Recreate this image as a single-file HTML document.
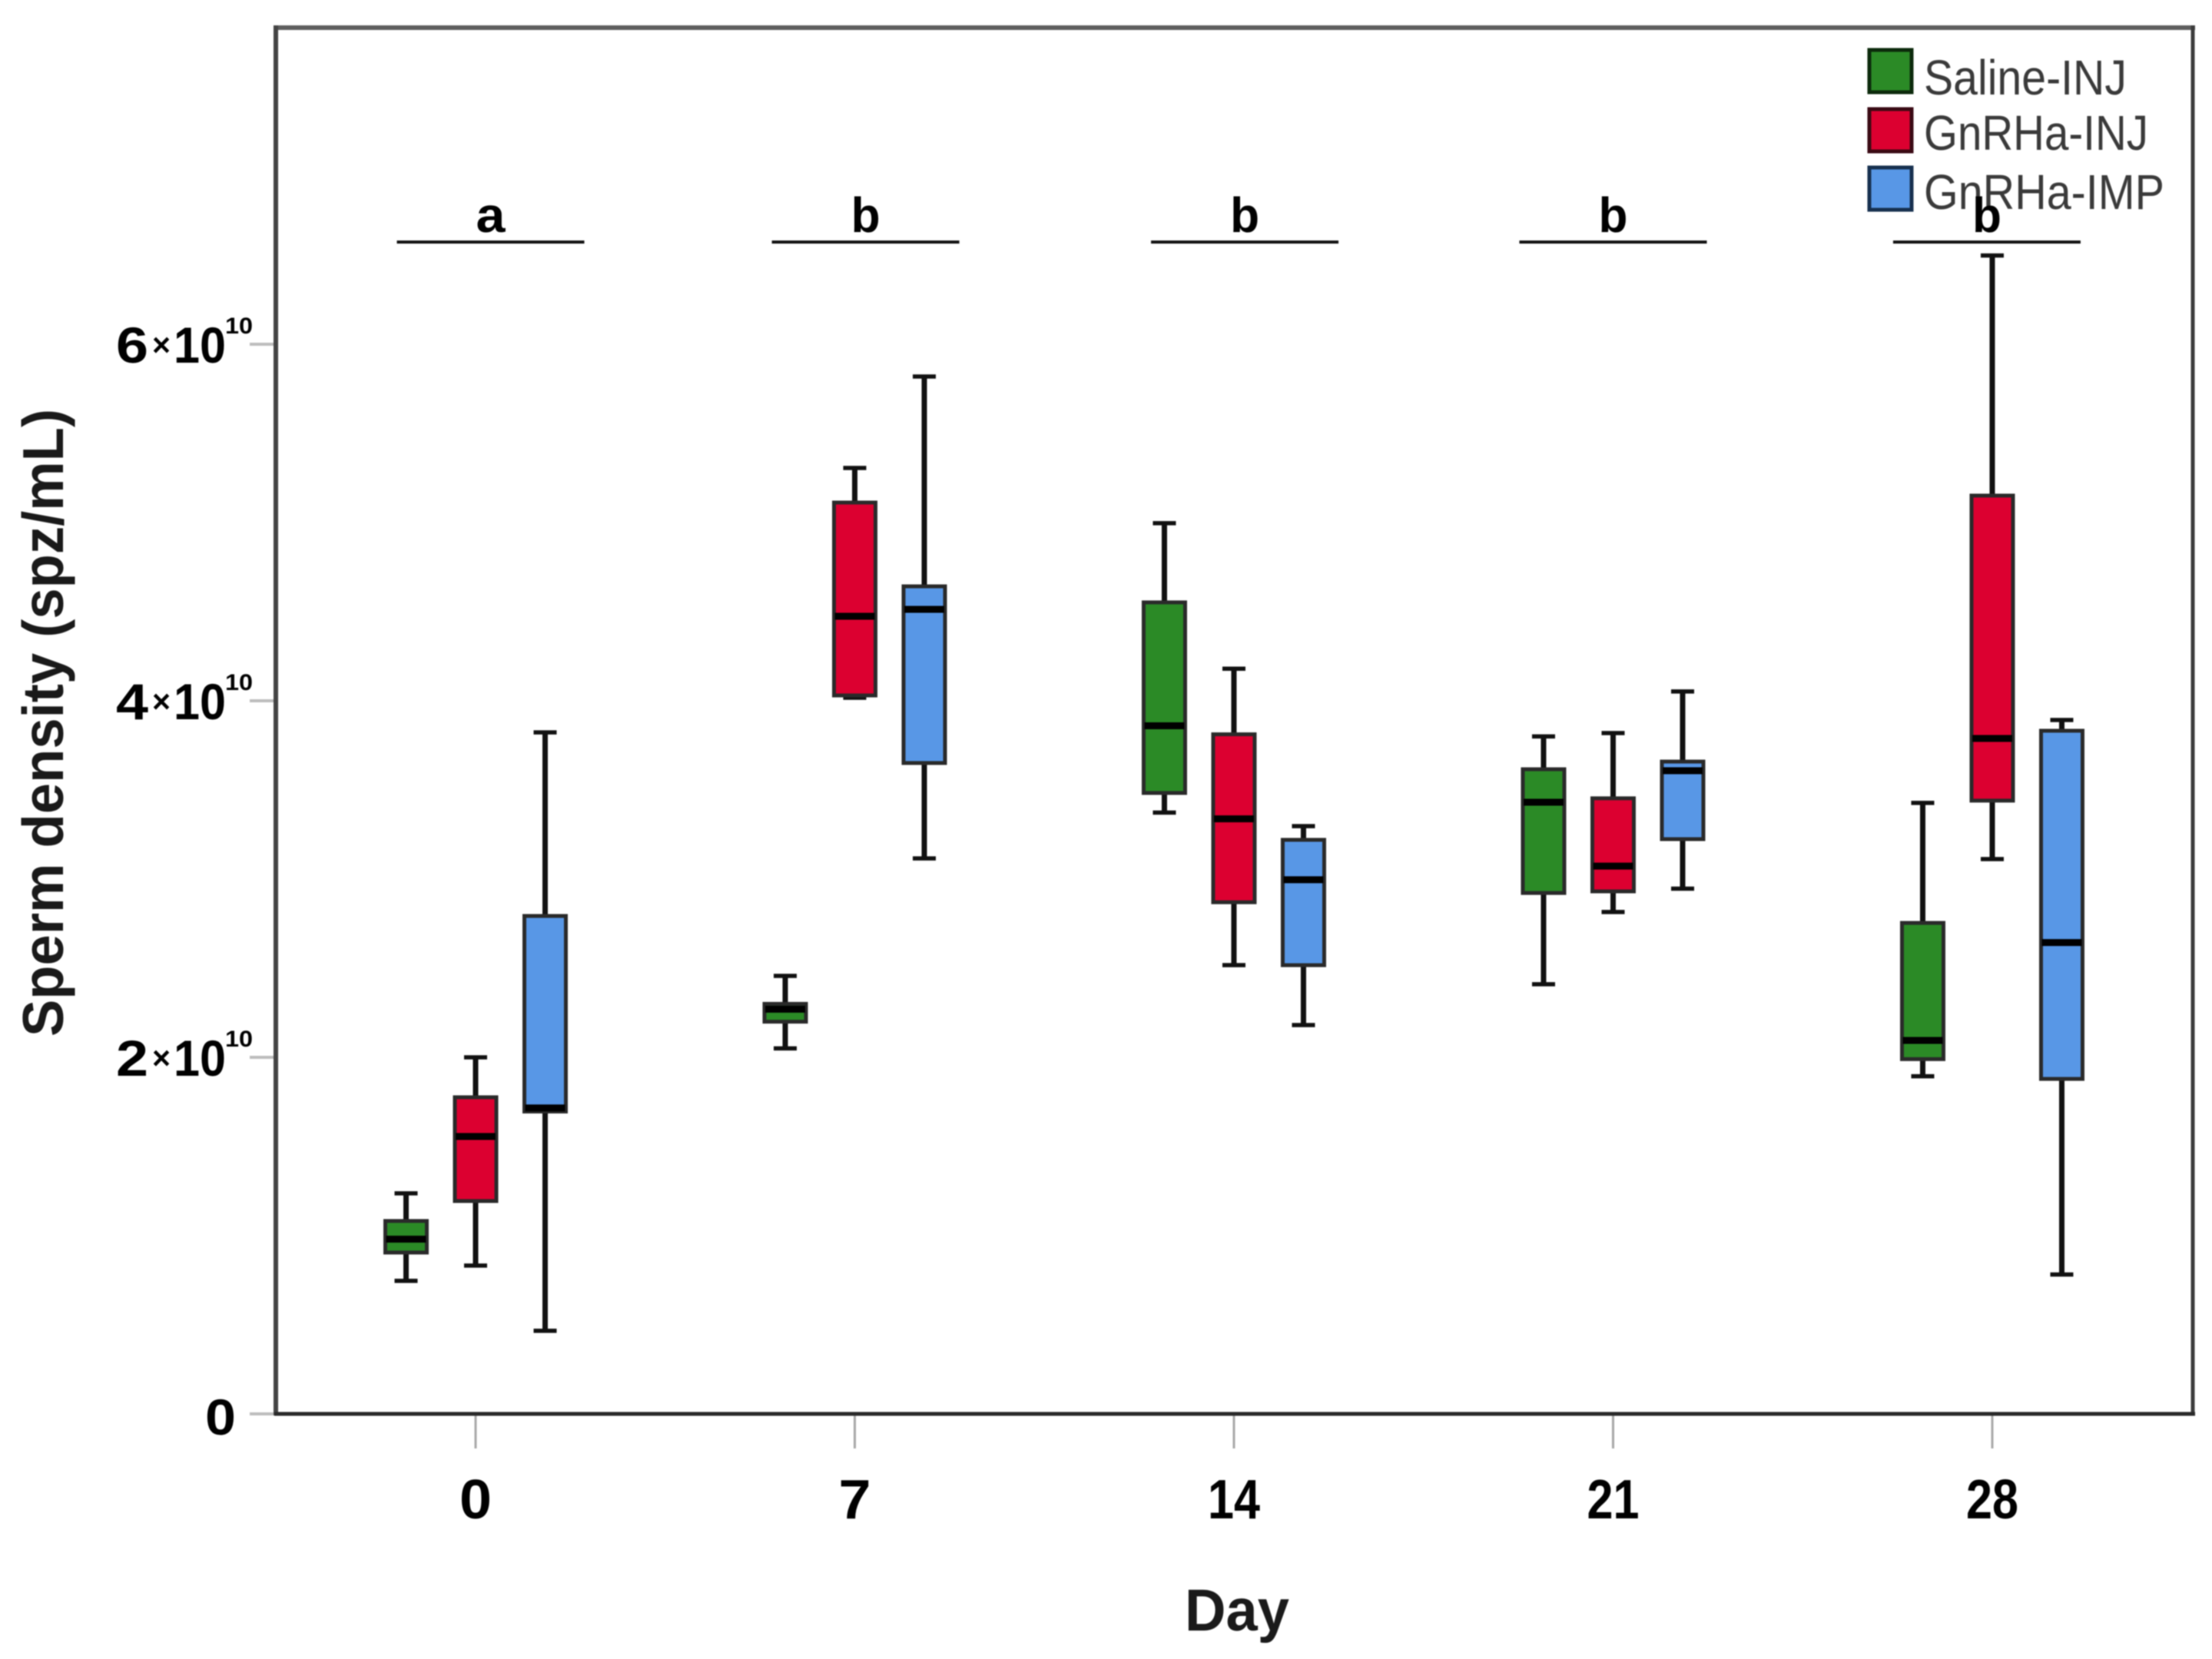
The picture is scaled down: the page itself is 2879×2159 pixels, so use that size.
<!DOCTYPE html>
<html lang="en">
<head>
<meta charset="utf-8">
<title>Sperm density by day</title>
<style>
html,body{margin:0;padding:0;background:#fff;}
svg{display:block;font-family:"Liberation Sans",Arial,sans-serif;filter:blur(0.9px);}
</style>
</head>
<body>
<svg id="chart" xmlns="http://www.w3.org/2000/svg" width="2879" height="2159" viewBox="0 0 2879 2159">
  <rect x="0" y="0" width="2879" height="2159" fill="#ffffff"/>
  <g id="ticks"></g>
  <g id="frame">
    <line x1="356" y1="36" x2="2857" y2="36" stroke="#5e5e5e" stroke-width="6"/>
    <line x1="2854" y1="33" x2="2854" y2="1842" stroke="#3c3c3c" stroke-width="5"/>
    <line x1="359" y1="33" x2="359" y2="1842" stroke="#444444" stroke-width="6"/>
    <line x1="357" y1="1840" x2="2857" y2="1840" stroke="#2a2a2a" stroke-width="5"/>
  </g>
  <g id="boxes"></g>
  <g id="tick-labels"></g>
  <g id="significance"></g>

  <g>
    <g>
      <rect x="2433" y="65" width="55" height="55" fill="#2B8A26" stroke="#0c2a0c" stroke-width="5"/>
      <text x="2504" y="123" font-size="64" fill="#3a3a3a" textLength="264" lengthAdjust="spacingAndGlyphs">Saline-INJ</text>
    </g>
    <g>
      <rect x="2433" y="142" width="55" height="55" fill="#DC0030" stroke="#3a0a14" stroke-width="5"/>
      <text x="2504" y="195" font-size="64" fill="#3a3a3a" textLength="292" lengthAdjust="spacingAndGlyphs">GnRHa-INJ</text>
    </g>
    <g>
      <rect x="2433" y="218" width="55" height="55" fill="#5897E6" stroke="#17304f" stroke-width="5"/>
      <text x="2504" y="272" font-size="64" fill="#3a3a3a" textLength="313" lengthAdjust="spacingAndGlyphs">GnRHa-IMP</text>
    </g>
  </g>

  <g id="significance-letters"></g>

  <text transform="translate(82,1349) rotate(-90)" x="0" y="0" font-size="75" font-weight="700" fill="#1a1a1a" textLength="817" lengthAdjust="spacingAndGlyphs">Sperm density (spz/mL)</text>
  <text x="1542" y="2122" font-size="77" font-weight="700" fill="#1a1a1a" textLength="136" lengthAdjust="spacingAndGlyphs">Day</text>
</svg>

<script>
// Chart data (sperm density in units of 1e10 spz/mL); each row = one day: [low, q1, median, q3, high]
var days = [0, 7, 14, 21, 28];
var salineInj = [
  [0.746, 0.905, 0.98, 1.082, 1.237],
  [2.05, 2.20, 2.27, 2.30, 2.457],
  [3.373, 3.483, 3.86, 4.552, 4.996],
  [2.41, 2.922, 3.431, 3.616, 3.80],
  [1.894, 1.99, 2.095, 2.754, 3.427]
];
var gnrhaInj = [
  [0.832, 1.194, 1.556, 1.776, 2.0],
  [4.017, 4.03, 4.474, 5.112, 5.306],
  [2.517, 2.87, 3.338, 3.812, 4.18],
  [2.815, 2.931, 3.073, 3.453, 3.819],
  [3.112, 3.44, 3.789, 5.151, 6.498]
];
var gnrhaImp = [
  [0.466, 1.696, 1.716, 2.793, 3.823],
  [3.116, 3.651, 4.513, 4.642, 5.819],
  [2.181, 2.517, 2.996, 3.22, 3.297],
  [2.946, 3.224, 3.608, 3.659, 4.052],
  [0.782, 1.879, 2.644, 3.832, 3.892]
];
var seriesNames = ['saline-inj', 'gnrha-inj', 'gnrha-imp'];
var seriesColors = ['#2B8A26', '#DC0030', '#5897E6'];
var yTickValues = [0, 2, 4, 6];
var xTickLabels = ['0', '7', '14', '21', '28'];
var significanceLetters = ['a', 'b', 'b', 'b', 'b'];
// Centre of each significance bar, expressed in days along the x axis
var significanceCentres = [0.277, 7.2, 14.2, 21, 27.9];

var NS = 'http://www.w3.org/2000/svg';
var seriesData = [salineInj, gnrhaInj, gnrhaImp];

function xScale(day) { return 619 + day * 70.5; }
function yScale(v) { return 1840 - v * 232; }
function offsetFor(seriesIndex) { return (seriesIndex - 1) * 90.5; }

function make(tag, attrs, parent, text) {
  var el = document.createElementNS(NS, tag);
  for (var k in attrs) { el.setAttribute(k, attrs[k]); }
  if (text !== undefined) { el.textContent = text; }
  parent.appendChild(el);
  return el;
}

var ticksG = document.getElementById('ticks');
var labelsG = document.getElementById('tick-labels');
var boxesG = document.getElementById('boxes');
var sigG = document.getElementById('significance');
var sigLettersG = document.getElementById('significance-letters');

// y ticks and labels
yTickValues.forEach(function (v) {
  var y = yScale(v);
  var tick = make('line', { x1: 325, x2: 358, y1: y, y2: y, stroke: '#bdbdbd', 'stroke-width': 4 }, ticksG);
  
  
  if (v === 0) {
    var zero = make('text', { x: 267, y: y + 27, 'font-size': 66, 'font-weight': 700, fill: '#000', textLength: 40, lengthAdjust: 'spacingAndGlyphs' }, labelsG, '0');
    
    
    return;
  }
  var lab = make('g', {}, labelsG);
  
  
  make('text', { x: 151, y: y + 24, 'font-size': 66, 'font-weight': 700, fill: '#000', textLength: 42, lengthAdjust: 'spacingAndGlyphs' }, lab, String(v));
  make('text', { x: 198, y: y + 15, 'font-size': 42, 'font-weight': 700, fill: '#000', textLength: 24, lengthAdjust: 'spacingAndGlyphs' }, lab, '×');
  make('text', { x: 226, y: y + 24, 'font-size': 66, 'font-weight': 700, fill: '#000', textLength: 68, lengthAdjust: 'spacingAndGlyphs' }, lab, '10');
  make('text', { x: 293, y: y - 14, 'font-size': 30, 'font-weight': 700, fill: '#000', textLength: 36, lengthAdjust: 'spacingAndGlyphs' }, lab, '10');
});

// x ticks, labels, significance bars
days.forEach(function (d, i) {
  var x = xScale(d);
  var tick = make('line', { x1: x, x2: x, y1: 1842, y2: 1885, stroke: '#a8a8a8', 'stroke-width': 3 }, ticksG);
  
  

  var label = xTickLabels[i];
  var lab = make('text', { x: x, y: 1976, 'font-size': 72, 'font-weight': 700, fill: '#000', 'text-anchor': 'middle', textLength: label.length === 1 ? 42 : 68, lengthAdjust: 'spacingAndGlyphs' }, labelsG, label);
  
  

  var cx = xScale(significanceCentres[i]);
  var bar = make('line', { x1: cx - 122, x2: cx + 122, y1: 315, y2: 315, stroke: '#111', 'stroke-width': 4 }, sigG);
  
  

  var letter = make('text', { x: cx, y: 302, 'font-size': 64, 'font-weight': 700, fill: '#000', 'text-anchor': 'middle', textLength: 38, lengthAdjust: 'spacingAndGlyphs' }, sigLettersG, significanceLetters[i]);
  
  
});

// boxes
seriesData.forEach(function (rows, s) {
  var group = make('g', {}, boxesG);
  
  
  rows.forEach(function (r, i) {
    var cx = xScale(days[i]) + offsetFor(s);
    var low = yScale(r[0]), q1 = yScale(r[1]), med = yScale(r[2]), q3 = yScale(r[3]), high = yScale(r[4]);
    var box = make('g', {}, group);
    
    
    make('line', { x1: cx, x2: cx, y1: high, y2: low, stroke: '#111', 'stroke-width': 7 }, box);
    make('line', { x1: cx - 15, x2: cx + 15, y1: high, y2: high, stroke: '#111', 'stroke-width': 5.5 }, box);
    make('line', { x1: cx - 15, x2: cx + 15, y1: low, y2: low, stroke: '#111', 'stroke-width': 5.5 }, box);
    make('rect', { x: cx - 27, y: q3, width: 54, height: q1 - q3, fill: seriesColors[s], stroke: '#2a2a2a', 'stroke-width': 5 }, box);
    make('line', { x1: cx - 26, x2: cx + 26, y1: med, y2: med, stroke: '#000', 'stroke-width': 9 }, box);
  });
});
</script>
</body>
</html>
